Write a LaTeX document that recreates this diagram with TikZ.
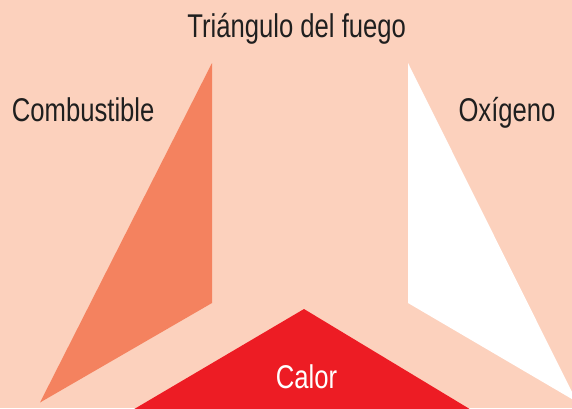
\documentclass[tikz,border=0pt]{standalone}
\usepackage{fontspec}
\setmainfont{Liberation Sans}[FakeStretch=0.78]
\definecolor{bgc}{HTML}{FCD1BD}
\definecolor{orangec}{HTML}{F4825F}
\definecolor{redc}{HTML}{ED1C24}
\begin{document}
\begin{tikzpicture}[x=1bp,y=-1bp,
  lbl/.style={inner sep=0pt, font=\fontsize{33}{39}\selectfont, text=black!88}]
\fill[bgc] (0,0) rectangle (572,408);
\useasboundingbox (0,0) rectangle (572,408);
\begin{scope}
\clip (0,0) rectangle (572,408);
\fill[orangec] (212,63) -- (212,303) -- (40,402.5) -- cycle;
\fill[white] (408,63) -- (408,303) -- (577,402) -- cycle;
\fill[redc] (304,309) -- (487.9,420) -- (115.6,420) -- cycle;
\end{scope}
\node[lbl, anchor=base] (title) at (296.7,37.7) {Triángulo del fuego};
\node[lbl, anchor=base west] (comb) at (11.7,121) {Combustible};
\node[lbl, anchor=base west] (oxi) at (458.3,121) {Oxígeno};
\node[lbl, anchor=base, text=white] (calor) at (306.5,388.3) {Calor};
\end{tikzpicture}
\end{document}
